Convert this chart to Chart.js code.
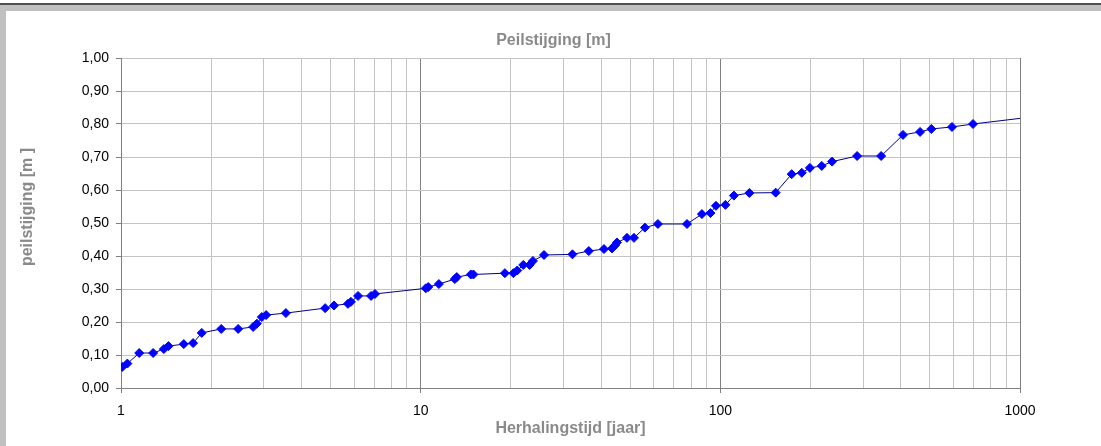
<!DOCTYPE html>
<html>
<head>
<meta charset="utf-8">
<script src="https://cdn.jsdelivr.net/npm/chart.js@4"></script>
<style>
  html, body { margin: 0; padding: 0; background: #ffffff; width: 1101px; height: 446px; overflow: hidden; }
  #topline { position: absolute; left: 0; top: 3px; width: 1101px; height: 2px; background: #505050; }
  #topband { position: absolute; left: 0; top: 5px; width: 1101px; height: 6px; background: #c0c0c0; }
  #leftbar { position: absolute; left: 0; top: 5px; width: 6px; height: 441px; background: #c0c0c0; }
  #wrap { position: absolute; left: 6px; top: 11px; width: 1095px; height: 435px; }
</style>
</head>
<body>
<div id="topline"></div>
<div id="topband"></div>
<div id="leftbar"></div>
<div id="wrap"><canvas id="c"></canvas></div>
<script>
// Herhalingstijd [jaar] (return period)
const returnPeriods = [1.01, 1.05, 1.15, 1.28, 1.39, 1.44, 1.62, 1.74, 1.86, 2.16,
  2.46, 2.76, 2.84, 2.95, 3.05, 3.55, 4.8, 5.14, 5.72, 5.85,
  6.18, 6.83, 7.04, 10.4, 10.6, 11.5, 13.0, 13.2, 14.7, 15.0,
  19.1, 20.4, 21.0, 22.0, 23.1, 23.7, 25.8, 32.1, 36.4, 40.9,
  43.5, 44.5, 45.2, 48.8, 51.5, 56.0, 61.9, 77.4, 86.8, 92.7,
  96.7, 104, 111, 125, 153, 173, 187, 199, 218, 236,
  286, 344, 407, 464, 506, 593, 697, 1000];
// Peilstijging [m]
const peilstijging = [0.064, 0.074, 0.106, 0.106, 0.118, 0.127, 0.133, 0.136, 0.167, 0.179,
  0.179, 0.185, 0.195, 0.215, 0.221, 0.227, 0.242, 0.250, 0.255, 0.261,
  0.279, 0.279, 0.285, 0.302, 0.306, 0.315, 0.330, 0.336, 0.344, 0.344,
  0.348, 0.348, 0.356, 0.373, 0.373, 0.385, 0.403, 0.405, 0.415, 0.421,
  0.423, 0.432, 0.441, 0.455, 0.455, 0.486, 0.497, 0.497, 0.527, 0.530,
  0.552, 0.555, 0.583, 0.591, 0.592, 0.648, 0.652, 0.667, 0.673, 0.686,
  0.703, 0.703, 0.767, 0.776, 0.785, 0.791, 0.800, 0.817];
// Tick labels
const xDecades = [1, 10, 100, 1000];
const xMinorSteps = [1, 2, 3, 4, 5, 6, 7, 8, 9];
const yTicks = [0, 0.1, 0.2, 0.3, 0.4, 0.5, 0.6, 0.7, 0.8, 0.9, 1.0];

const titleText = 'Peilstijging [m]';
const xTitle = 'Herhalingstijd [jaar]';
const yTitle = 'peilstijging [m ]';

const xTickValues = [];
xDecades.slice(0, -1).forEach(d => xMinorSteps.forEach(s => xTickValues.push(d * s)));
xTickValues.push(xDecades[xDecades.length - 1]);
const isDecade = v => xDecades.some(d => Math.abs(d - v) < 1e-9);

const FONT = '"Liberation Sans", Arial, sans-serif';
const lastIdx = returnPeriods.length - 1;

const yTitlePlugin = {
  id: 'yTitle',
  afterDraw(chart) {
    const ctx = chart.ctx;
    ctx.save();
    ctx.translate(22, 196);
    ctx.rotate(-Math.PI / 2);
    ctx.font = 'bold 16px ' + FONT;
    ctx.fillStyle = '#8a8a8a';
    ctx.textAlign = 'center';
    ctx.textBaseline = 'middle';
    ctx.fillText(yTitle, 0, 0);
    ctx.restore();
  }
};

new Chart(document.getElementById('c'), {
  type: 'line',
  data: {
    datasets: [{
      data: returnPeriods.map((t, i) => ({ x: t, y: peilstijging[i] })),
      borderColor: '#000080',
      borderWidth: 1,
      backgroundColor: '#0000ff',
      pointStyle: 'rectRot',
      pointRadius: ctx => ctx.dataIndex === lastIdx ? 0 : 4.5,
      pointBorderColor: '#0000ff',
      pointBackgroundColor: '#0000ff',
      pointBorderWidth: 1,
      tension: 0,
      fill: false
    }]
  },
  options: {
    responsive: true,
    maintainAspectRatio: false,
    animation: false,
    layout: { padding: { left: 0, right: 0, top: 0, bottom: 0 } },
    plugins: {
      legend: { display: false },
      tooltip: { enabled: false },
      title: {
        display: true,
        text: titleText,
        color: '#8a8a8a',
        font: { family: FONT, size: 16, weight: 'bold' },
        padding: { top: 20, bottom: 7.8 }
      }
    },
    scales: {
      x: {
        type: 'logarithmic',
        min: 1,
        max: 1000,
        afterBuildTicks: scale => { scale.ticks = xTickValues.map(v => ({ value: v })); },
        afterFit: scale => { scale.height = 58; },
        ticks: {
          autoSkip: false,
          maxRotation: 0,
          color: '#000000',
          font: { family: FONT, size: 14 },
          padding: 10,
          callback: v => isDecade(v) ? String(v) : ''
        },
        grid: {
          color: ctx => isDecade(ctx.tick.value) ? '#808080' : '#c4c4c4',
          tickColor: ctx => isDecade(ctx.tick.value) ? '#808080' : 'rgba(0,0,0,0)',
          tickLength: 5,
          lineWidth: 1
        },
        border: { color: '#808080', width: 1 },
        title: {
          display: true,
          text: xTitle,
          color: '#8a8a8a',
          font: { family: FONT, size: 16, weight: 'bold' },
          padding: { top: 0, bottom: 8 }
        }
      },
      y: {
        type: 'linear',
        position: 'left',
        min: 0,
        max: 1,
        afterBuildTicks: scale => { scale.ticks = yTicks.map(v => ({ value: v })); },
        afterFit: scale => { scale.width = 115; },
        ticks: {
          color: '#000000',
          font: { family: FONT, size: 14 },
          padding: 7,
          callback: v => Number(v).toFixed(2).replace('.', ',')
        },
        grid: {
          color: '#c4c4c4',
          tickColor: '#808080',
          tickLength: 5,
          lineWidth: 1
        },
        border: { color: '#808080', width: 1 }
      },
      yRightSpace: {
        type: 'linear',
        position: 'right',
        min: 0,
        max: 1,
        afterFit: scale => { scale.width = 81; },
        ticks: { display: false },
        grid: { display: false, drawTicks: false },
        border: { display: false }
      }
    }
  },
  plugins: [yTitlePlugin]
});
</script>
</body>
</html>
